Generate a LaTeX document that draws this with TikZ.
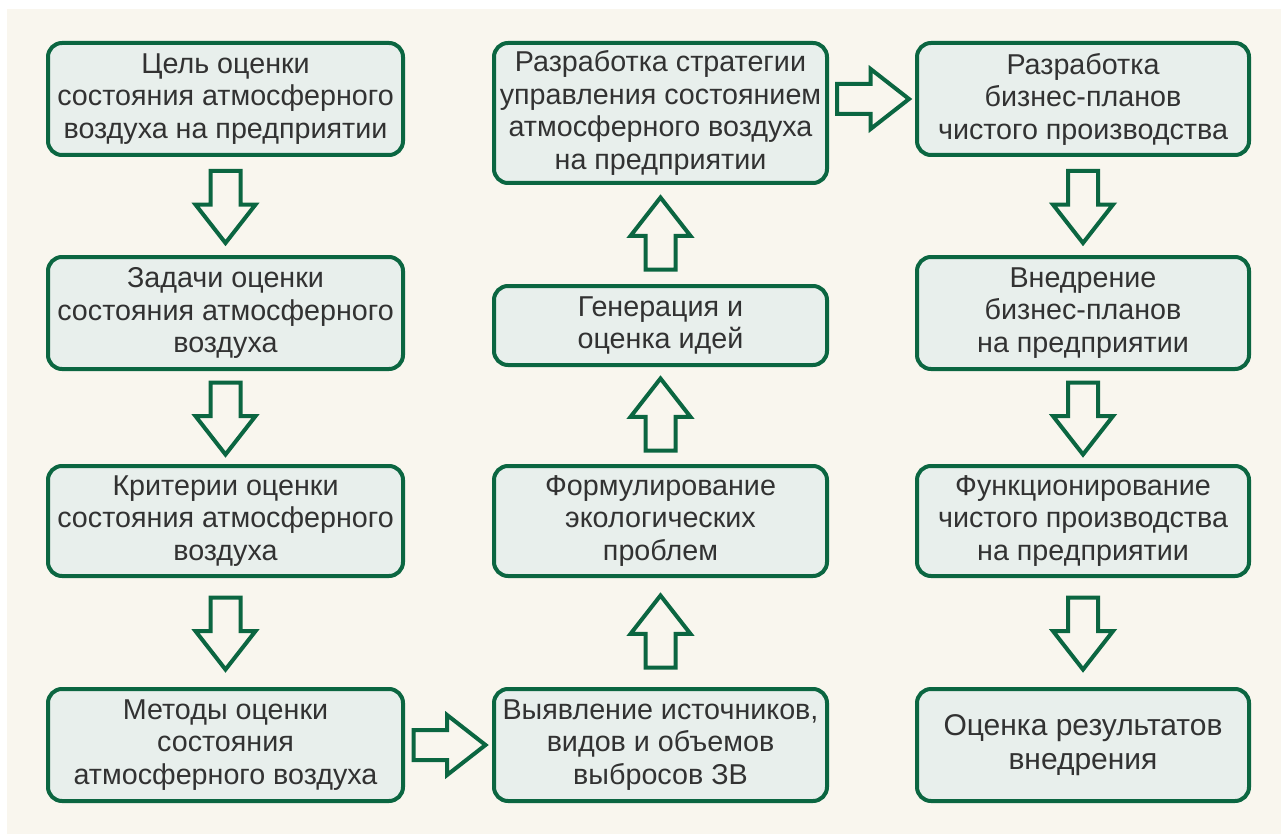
\documentclass[tikz,border=0pt]{standalone}
\usepackage{fontspec}
\setmainfont{Liberation Sans}
\usetikzlibrary{shapes.arrows,calc}
\definecolor{dkgreen}{RGB}{11,102,65}
\definecolor{boxfill}{RGB}{232,239,236}
\definecolor{cream}{RGB}{249,246,238}
\definecolor{txt}{RGB}{50,50,50}
\begin{document}
\begin{tikzpicture}[x=1pt,y=-1pt,
  box/.style={draw=dkgreen, line width=4pt, fill=boxfill, rounded corners=14pt,
    inner sep=0pt, align=center, text=txt,
    font=\fontsize{28.7}{32.5}\selectfont},
  blockarrow/.style={single arrow, draw=dkgreen, line width=4pt, fill=cream,
    minimum height=72pt, inner xsep=0pt, inner ysep=13pt,
    single arrow head extend=15pt, anchor=tail,
    single arrow head indent=0pt, single arrow tip angle=76}]
\fill[white] (0,0) rectangle (1281,834);
\fill[cream] (7,9) rectangle (1281,834);
\useasboundingbox (0,0) rectangle (1281,834);
% column 1
\node[box, minimum width=355pt, minimum height=112pt] (c1r1) at (225.5,99)
  {Цель оценки\\состояния атмосферного\\воздуха на предприятии};
\node[box, minimum width=355pt, minimum height=112pt] (c1r2) at (225.5,313)
  {Задачи оценки\\состояния атмосферного\\воздуха};
\node[box, minimum width=355pt, minimum height=110pt] (c1r3) at (225.5,521)
  {Критерии оценки\\состояния атмосферного\\воздуха};
\node[box, minimum width=355pt, minimum height=112pt] (c1r4) at (225.5,745)
  {Методы оценки\\состояния\\атмосферного воздуха};
% column 2
\node[box, minimum width=333pt, minimum height=140pt] (c2r1) at (660.5,113)
  {Разработка стратегии\\управления состоянием\\атмосферного воздуха\\на предприятии};
\node[box, minimum width=333pt, minimum height=79pt] (c2r2) at (660.5,325.5)
  {Генерация и\\оценка идей};
\node[box, minimum width=333pt, minimum height=110pt] (c2r3) at (660.5,521)
  {Формулирование\\экологических\\проблем};
\node[box, minimum width=333pt, minimum height=112pt] (c2r4) at (660.5,745)
  {Выявление источников,\\видов и объемов\\выбросов ЗВ};
% column 3
\node[box, minimum width=332pt, minimum height=112pt] (c3r1) at (1083,99)
  {Разработка\\бизнес-планов\\чистого производства};
\node[box, minimum width=332pt, minimum height=112pt] (c3r2) at (1083,313)
  {Внедрение\\бизнес-планов\\на предприятии};
\node[box, minimum width=332pt, minimum height=110pt] (c3r3) at (1083,521)
  {Функционирование\\чистого производства\\на предприятии};
\node[box, minimum width=332pt, minimum height=112pt,
  font=\fontsize{30}{33.5}\selectfont] (c3r4) at (1083,745)
  {Оценка результатов\\внедрения};
% arrows column 1 (down)
\node[blockarrow, rotate=-90] (a11) at ($(c1r1.south)!0.5!(c1r2.north)+(0,-37)$) {};
\node[blockarrow, rotate=-90] (a12) at ($(c1r2.south)!0.5!(c1r3.north)+(0,-37)$) {};
\node[blockarrow, rotate=-90] (a13) at ($(c1r3.south)!0.5!(c1r4.north)+(0,-37)$) {};
% arrow column 1 -> column 2
\node[blockarrow] (a14) at ($(c1r4.east)!0.5!(c2r4.west)+(-37,0)$) {};
% arrows column 2 (up)
\node[blockarrow, rotate=90] (a21) at ($(c2r4.north)!0.5!(c2r3.south)+(0,37)$) {};
\node[blockarrow, rotate=90] (a22) at ($(c2r3.north)!0.5!(c2r2.south)+(0,37)$) {};
\node[blockarrow, rotate=90] (a23) at ($(c2r2.north)!0.5!(c2r1.south)+(0,37)$) {};
% arrow column 2 -> column 3
\coordinate (m23) at ($(c2r1.east)!0.5!(c3r1.west)+(-37,0)$);
\node[blockarrow] (a24) at (m23 |- c3r1.west) {};
% arrows column 3 (down)
\node[blockarrow, rotate=-90] (a31) at ($(c3r1.south)!0.5!(c3r2.north)+(0,-37)$) {};
\node[blockarrow, rotate=-90] (a32) at ($(c3r2.south)!0.5!(c3r3.north)+(0,-37)$) {};
\node[blockarrow, rotate=-90] (a33) at ($(c3r3.south)!0.5!(c3r4.north)+(0,-37)$) {};
\end{tikzpicture}
\end{document}
